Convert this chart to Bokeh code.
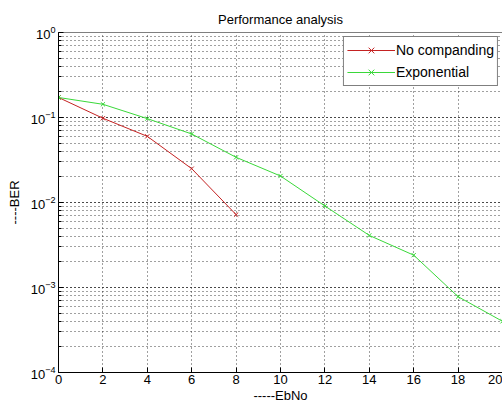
from bokeh.plotting import figure
from bokeh.models import Span, FixedTicker, LogTicker, Legend, LegendItem, Range1d
from bokeh.embed import file_html
from bokeh.resources import INLINE

title = "Performance analysis"
xlabel = "-----EbNo"
ylabel = "----BER"
x_nocomp = [0, 2, 4, 6, 8]
y_nocomp = [0.172, 0.098, 0.060, 0.025, 0.0072]
x_expo = [0, 2, 4, 6, 8, 10, 12, 14, 16, 18, 20]
y_expo = [0.172, 0.143, 0.097, 0.064, 0.034, 0.0205, 0.0091, 0.0041, 0.0024, 0.00078, 0.0004]
x_ticks = [0, 2, 4, 6, 8, 10, 12, 14, 16, 18, 20]

FONT = "Liberation Sans"
RED = "#c42222"
GREEN = "#3ad83a"

p = figure(width=502, height=405, y_axis_type="log", output_backend="svg",
           toolbar_location=None, x_range=Range1d(0, 20), y_range=Range1d(1e-4, 1),
           min_border_left=58, min_border_right=0, min_border_top=32, min_border_bottom=32)
p.title.text = title
p.title.text_font = FONT
p.title.text_font_size = "13px"
p.title.text_font_style = "normal"
p.title.text_color = "black"
p.title.align = "center"
p.title.offset = 0
p.title.standoff = 12
p.outline_line_color = None
p.background_fill_color = "white"
p.border_fill_color = "white"

for ax in (p.xaxis[0], p.yaxis[0]):
    ax.axis_line_color = "black"
    ax.major_tick_in = 5
    ax.major_tick_out = 0
    ax.minor_tick_in = 3
    ax.minor_tick_out = 0
    ax.major_tick_line_color = "black"
    ax.minor_tick_line_color = "black"
    ax.major_label_text_font = FONT
    ax.major_label_text_font_size = "13px"
    ax.major_label_text_color = "black"
    ax.axis_label_text_font = FONT
    ax.axis_label_text_font_size = "13px"
    ax.axis_label_text_font_style = "normal"
    ax.axis_label_text_color = "black"

p.xaxis.ticker = FixedTicker(ticks=x_ticks)
p.xaxis.major_label_standoff = 2
p.xaxis.axis_label = xlabel
p.xaxis.axis_label_standoff = 1
p.yaxis.ticker = LogTicker(num_minor_ticks=10)
p.yaxis.major_label_standoff = 3
p.yaxis.axis_label = ylabel
p.yaxis.axis_label_standoff = 6

p.xgrid.ticker = FixedTicker(ticks=x_ticks)
for g in (p.xgrid[0], p.ygrid[0]):
    g.grid_line_color = "#202020"
    g.grid_line_dash = "1 3"
    g.grid_line_alpha = 0.85
p.ygrid.minor_grid_line_color = "#202020"
p.ygrid.minor_grid_line_dash = "1 3"
p.ygrid.minor_grid_line_alpha = 0.85

p.add_layout(Span(location=1, dimension="width", line_color="black", line_width=1))

r1 = p.line(x_nocomp, y_nocomp, line_color=RED, line_width=1)
m1 = p.scatter(x_nocomp, y_nocomp, marker="x", size=6, line_color=RED)
r2 = p.line(x_expo, y_expo, line_color=GREEN, line_width=1)
m2 = p.scatter(x_expo, y_expo, marker="x", size=6, line_color=GREEN)

legend = Legend(items=[LegendItem(label="No companding", renderers=[r1, m1]),
                       LegendItem(label="Exponential", renderers=[r2, m2])],
                location="top_right")
legend.label_text_font = FONT
legend.label_text_font_size = "14px"
legend.label_text_color = "black"
legend.border_line_color = "black"
legend.border_line_width = 1
legend.background_fill_alpha = 1
legend.glyph_width = 48
legend.glyph_height = 20
legend.label_height = 20
legend.spacing = 2
legend.padding = 3
legend.margin = 4
legend.label_standoff = 1
p.add_layout(legend)

open("out.html", "w").write(file_html(p, INLINE))
